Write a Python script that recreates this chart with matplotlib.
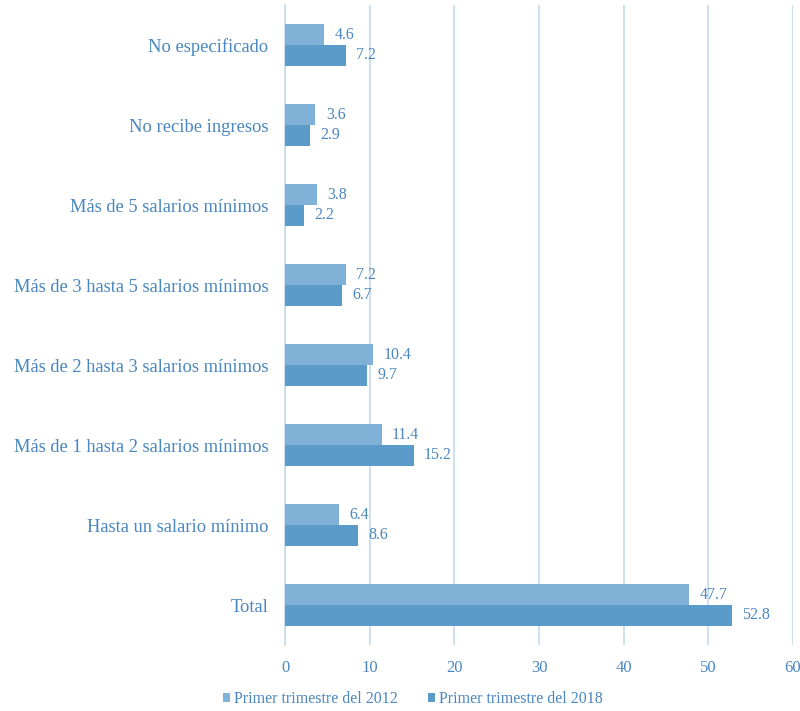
import matplotlib
matplotlib.use("Agg")
import matplotlib.pyplot as plt
import numpy as np

categories = ["Total", "Hasta un salario mínimo", "Más de 1 hasta 2 salarios mínimos",
              "Más de 2 hasta 3 salarios mínimos", "Más de 3 hasta 5 salarios mínimos",
              "Más de 5 salarios mínimos", "No recibe ingresos", "No especificado"]
v2012 = [47.7, 6.4, 11.4, 10.4, 7.2, 3.8, 3.6, 4.6]
v2018 = [52.8, 8.6, 15.2, 9.7, 6.7, 2.2, 2.9, 7.2]
series_names = ["Primer trimestre del 2012", "Primer trimestre del 2018"]

plt.rcParams['font.family'] = ['Liberation Serif', 'DejaVu Serif']
txt = '#4a86c0'
c1 = '#80b1d6'
c2 = '#5b9bc9'
grid = '#c3dbee'

fig = plt.figure(figsize=(8, 7.11), dpi=100)
ax = fig.add_axes([285/800, 1-645/711, 508/800, 640/711])
y = np.arange(len(categories))
h = 0.26
b1 = ax.barh(y + h/2, v2012, height=h, color=c1, label=series_names[0], zorder=3)
b2 = ax.barh(y - h/2, v2018, height=h, color=c2, label=series_names[1], zorder=3)
for bars, vals in ((b1, v2012), (b2, v2018)):
    for bar, v in zip(bars, vals):
        ax.annotate(f"{v:.1f}", (v, bar.get_y() + bar.get_height()/2),
                    xytext=(7.5, 0), textcoords='offset points', va='center', ha='left',
                    color=txt, fontsize=11.5)
ax.set_xlim(0, 60)
ax.set_ylim(-0.5, 7.5)
ax.set_xticks(range(0, 61, 10))
ax.set_yticks(y)
ax.set_yticklabels(categories, fontsize=13.3, color=txt)
ax.tick_params(axis='x', colors=txt, labelsize=12, length=0, pad=11)
ax.tick_params(axis='y', length=0, pad=12)
ax.grid(axis='x', color=grid, linewidth=1.2, zorder=0)
for s in ['top', 'right', 'bottom']:
    ax.spines[s].set_visible(False)
ax.spines['left'].set_color(grid)
ax.spines['left'].set_linewidth(1.2)
leg = fig.legend(handles=[b1, b2], labels=series_names, loc='center', ncol=2,
                 bbox_to_anchor=(0.516, 1-699/711), frameon=False, fontsize=11.5,
                 handlelength=0.45, handleheight=0.45, handletextpad=0.25, columnspacing=1.9)
for t in leg.get_texts():
    t.set_color(txt)
fig.savefig("out.png", dpi=100)
